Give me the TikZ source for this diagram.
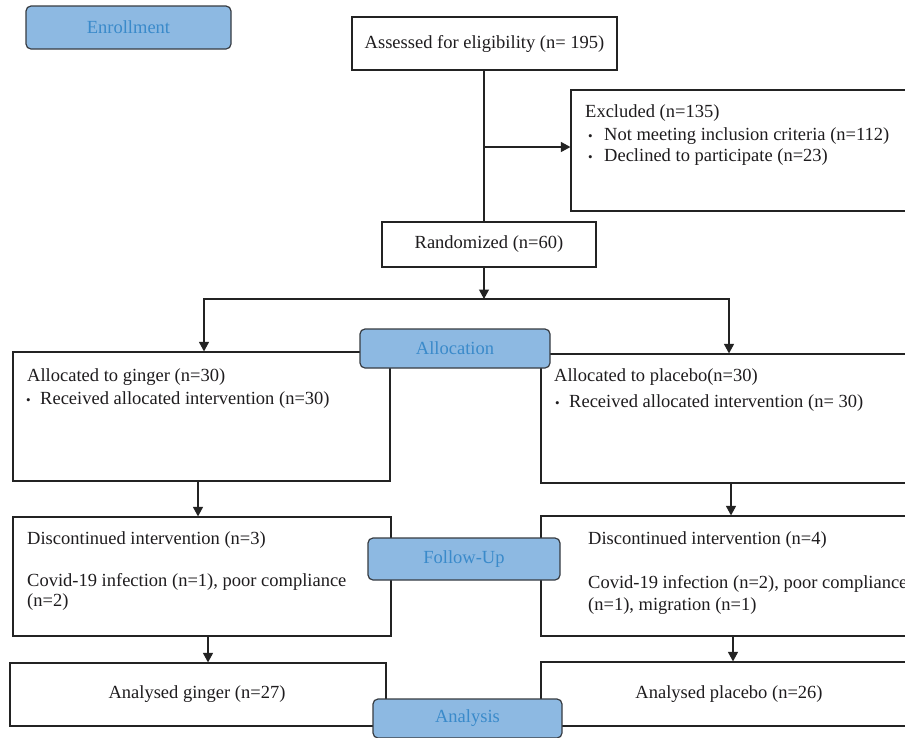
\documentclass[tikz,border=0pt]{standalone}
\usepackage{fontspec}
\setmainfont{Liberation Serif}
\usetikzlibrary{arrows.meta}
\definecolor{lblfill}{RGB}{141,185,226}
\definecolor{lbltext}{RGB}{58,138,202}
\definecolor{lblborder}{RGB}{55,60,66}
\definecolor{lineclr}{RGB}{35,35,35}
\definecolor{txtclr}{RGB}{30,28,30}
\newcommand{\bul}[1]{\makebox[#1][l]{\fontsize{13}{13}\selectfont\textbullet}}
\begin{document}
\begin{tikzpicture}[x=1pt,y=-1pt,
  box/.style={draw=lineclr, line width=1.2pt, inner sep=0pt},
  lbl/.style={draw=lblborder, line width=1.2pt, rounded corners=5pt, fill=lblfill,
              text=lbltext, inner sep=0pt, font=\fontsize{18.5}{20}\selectfont},
  txt/.style={inner sep=0pt, anchor=west, text=txtclr, font=\fontsize{18.5}{20}\selectfont},
  ctxt/.style={inner sep=0pt, text=txtclr, font=\fontsize{18.5}{20}\selectfont},
  ln/.style={draw=lineclr, line width=1.2pt},
  arr/.style={draw=lineclr, line width=1.2pt, -{Triangle[length=9.5pt,width=10pt]}}
]
\useasboundingbox (0,0) rectangle (905,737);
\fill[white] (0,0) rectangle (905,737);
\begin{scope}
\clip (0,0) rectangle (905,737);
% boxes
\node[box, minimum width=265pt, minimum height=53pt] (assess) at (484.5,43.5) {};
\node[box, minimum width=344pt, minimum height=121pt] (excl) at (743,150.5) {};
\node[box, minimum width=214pt, minimum height=45pt] (rand) at (489,244.5) {};
\node[box, minimum width=377pt, minimum height=129pt] (gal) at (201.5,416.5) {};
\node[box, minimum width=374pt, minimum height=129pt] (pal) at (728,418.5) {};
\node[box, minimum width=378pt, minimum height=119pt] (gdis) at (202,576.5) {};
\node[box, minimum width=374pt, minimum height=120pt] (pdis) at (728,576) {};
\node[box, minimum width=376pt, minimum height=63pt] (gana) at (198,694.5) {};
\node[box, minimum width=374pt, minimum height=64pt] (pana) at (728,694) {};
% connector points
\coordinate (vx) at (484,0);
\coordinate (exj) at (484,147);
\coordinate (split) at (484,299);
\coordinate (sl) at (204,299);
\coordinate (sr) at (729,299);
\coordinate (c1) at (198,0);
\coordinate (c2) at (731,0);
\coordinate (c3) at (208,0);
\coordinate (c4) at (733,0);
% connectors
\draw[ln] (assess.south -| vx) -- (rand.north -| vx);
\draw[arr] (exj) -- (exj -| excl.west);
\draw[arr] (rand.south -| vx) -- (split);
\draw[arr] (split) -| (sl |- gal.north);
\draw[arr] (split) -| (sr |- pal.north);
\draw[lineclr, line width=1.8pt] (421,299) -- (512,299);
\draw[arr] (gal.south -| c1) -- (gdis.north -| c1);
\draw[arr] (pal.south -| c2) -- (pdis.north -| c2);
\draw[arr] (gdis.south -| c3) -- (gana.north -| c3);
\draw[arr] (pdis.south -| c4) -- (pana.north -| c4);
% phase labels
\node[lbl, minimum width=205pt, minimum height=43pt] (enrol) at (128.5,27.5) {Enrollment};
\node[lbl, minimum width=190pt, minimum height=39pt] (alloc) at (455,348.5) {Allocation};
\node[lbl, minimum width=192pt, minimum height=42pt] (follow) at (464,559) {Follow-Up};
\node[lbl, minimum width=189pt, minimum height=39pt] (anal) at (467.5,718.5) {Analysis};
% texts
\node[ctxt] (tassess) at (assess.center) {Assessed for eligibility (n= 195)};
\node[ctxt] (trand) at (rand.center) {Randomized (n=60)};
\node[txt] (tex1) at (585,113) {Excluded (n=135)};
\node[txt] (tex2) at (588,136) {\bul{16pt}Not meeting inclusion criteria (n=112)};
\node[txt] (tex3) at (588,157) {\bul{16pt}Declined to participate (n=23)};
\node[txt] (tg1) at (27,377) {Allocated to ginger (n=30)};
\node[txt] (tg2) at (26,400) {\bul{14pt}Received allocated intervention (n=30)};
\node[txt] (tp1) at (554,377) {Allocated to placebo(n=30)};
\node[txt] (tp2) at (555,403) {\bul{14pt}Received allocated intervention (n= 30)};
\node[txt] (tgd1) at (27,540) {Discontinued intervention (n=3)};
\node[txt] (tgd2) at (27,582) {Covid-19 infection (n=1), poor compliance};
\node[txt] (tgd3) at (27,602) {(n=2)};
\node[txt] (tpd1) at (588,540) {Discontinued intervention (n=4)};
\node[txt] (tpd2) at (588,584) {Covid-19 infection (n=2), poor compliance};
\node[txt] (tpd3) at (588,606) {(n=1), migration (n=1)};
\node[ctxt] (tga) at (197,694) {Analysed ginger (n=27)};
\node[ctxt] (tpa) at (729,694) {Analysed placebo (n=26)};
\end{scope}
\end{tikzpicture}
\end{document}
